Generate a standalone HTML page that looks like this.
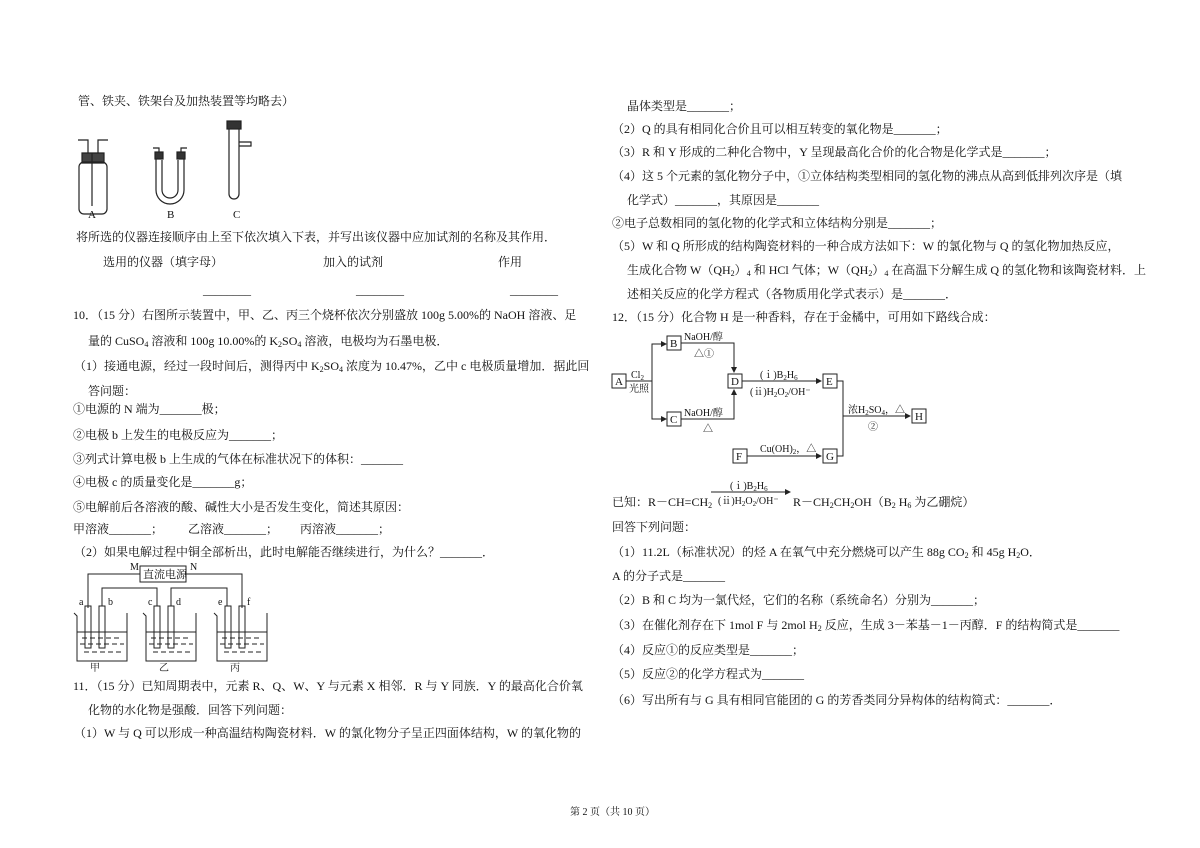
<!DOCTYPE html>
<html><head><meta charset="utf-8"><style>
body{margin:0;background:#fff;}
#p{position:relative;width:1200px;height:848px;overflow:hidden;font-family:"Liberation Serif","Noto Serif CJK SC",serif;font-size:12px;color:#111;}
.t{position:absolute;white-space:nowrap;line-height:16px;}
sub{font-size:8px;vertical-align:-2px;line-height:0}
svg{position:absolute;}
</style></head><body><div id="p">
<div class="t" style="left:78px;top:93px">管、铁夹、铁架台及加热装置等均略去）</div>
<svg style="left:60px;top:118px" width="220" height="102" viewBox="0 0 220 102" fill="none" stroke="#222" stroke-width="1.2">
<path d="M22 35 h22 v10 h-22z" fill="#444"/>
<rect x="19" y="44" width="28" height="52" rx="5"/>
<path d="M32 35 V88 M38 35 V22 h10 M28 35 v-13 h-10"/>
<path d="M96 38 v34 a14 14 0 0 0 28 0 v-34 M102 42 v30 a8 8 0 0 0 16 0 v-30"/>
<rect x="95" y="34" width="8" height="7" fill="#333"/><rect x="117" y="34" width="8" height="7" fill="#333"/>
<path d="M99 34 v-4 h-6 M121 34 v-4 h6"/>
<rect x="167" y="3" width="14" height="8" fill="#333"/>
<path d="M169 11 v65 a5 5 0 0 0 10 0 v-65 M179 24 h12 v4 h-12"/>
<text x="28" y="100" font-size="11" fill="#111" stroke="none">A</text>
<text x="107" y="100" font-size="11" fill="#111" stroke="none">B</text>
<text x="173" y="100" font-size="11" fill="#111" stroke="none">C</text>
</svg>
<div class="t" style="left:76px;top:229px">将所选的仪器连接顺序由上至下依次填入下表，并写出该仪器中应加试剂的名称及其作用．</div>
<div class="t" style="left:103px;top:254px">选用的仪器（填字母）</div>
<div class="t" style="left:323px;top:254px">加入的试剂</div>
<div class="t" style="left:498px;top:254px">作用</div>
<div class="t" style="left:203px;top:282px">________</div>
<div class="t" style="left:356px;top:282px">________</div>
<div class="t" style="left:510px;top:282px">________</div>
<div class="t" style="left:73px;top:307px">10．（15 分）右图所示装置中，甲、乙、丙三个烧杯依次分别盛放 100g 5.00%的 NaOH 溶液、足</div>
<div class="t" style="left:88px;top:333px">量的 CuSO<sub>4</sub> 溶液和 100g 10.00%的 K<sub>2</sub>SO<sub>4</sub> 溶液，电极均为石墨电极．</div>
<div class="t" style="left:74px;top:358px">（1）接通电源，经过一段时间后，测得丙中 K<sub>2</sub>SO<sub>4</sub> 浓度为 10.47%，乙中 c 电极质量增加．据此回</div>
<div class="t" style="left:88px;top:383px">答问题：</div>
<div class="t" style="left:73px;top:401px">①电源的 N 端为_______极；</div>
<div class="t" style="left:73px;top:427px">②电极 b 上发生的电极反应为_______；</div>
<div class="t" style="left:73px;top:451px">③列式计算电极 b 上生成的气体在标准状况下的体积：_______</div>
<div class="t" style="left:73px;top:474px">④电极 c 的质量变化是_______g；</div>
<div class="t" style="left:73px;top:499px">⑤电解前后各溶液的酸、碱性大小是否发生变化，简述其原因：</div>
<div class="t" style="left:73px;top:521px">甲溶液_______；</div>
<div class="t" style="left:188px;top:521px">乙溶液_______；</div>
<div class="t" style="left:300px;top:521px">丙溶液_______；</div>
<div class="t" style="left:74px;top:544px">（2）如果电解过程中铜全部析出，此时电解能否继续进行，为什么？_______．</div>
<svg style="left:60px;top:558px" width="220" height="115" viewBox="0 0 220 115" fill="none" stroke="#222" stroke-width="1">
<rect x="80" y="8" width="46" height="16"/>
<text x="83" y="20" font-size="11" fill="#111" stroke="none">直流电源</text>
<text x="70" y="12" font-size="10" fill="#111" stroke="none">M</text>
<text x="130" y="12" font-size="10" fill="#111" stroke="none">N</text>
<path d="M80 16 H28 V50 M126 16 H182 V50 M42 48 V30 H97 V48 M111 48 V30 H167 V48"/>
<g><rect x="25" y="48" width="6" height="42"/><rect x="39" y="48" width="6" height="42"/>
<path d="M14 55 l3 3 v45 h50 v-48"/><path d="M17 74 h50"/>
<path d="M22 80 h40 M20 86 h44 M24 94 h38" stroke-dasharray="5 3"/></g>
<g transform="translate(69,0)"><rect x="25" y="48" width="6" height="42"/><rect x="39" y="48" width="6" height="42"/>
<path d="M14 55 l3 3 v45 h50 v-48"/><path d="M17 74 h50"/>
<path d="M22 80 h40 M20 86 h44 M24 94 h38" stroke-dasharray="5 3"/></g>
<g transform="translate(140,0)"><rect x="25" y="48" width="6" height="42"/><rect x="39" y="48" width="6" height="42"/>
<path d="M14 55 l3 3 v45 h50 v-48"/><path d="M17 74 h50"/>
<path d="M22 80 h40 M20 86 h44 M24 94 h38" stroke-dasharray="5 3"/></g>
<g font-size="10" fill="#111" stroke="none"><text x="19" y="47">a</text><text x="48" y="47">b</text><text x="88" y="47">c</text><text x="116" y="47">d</text><text x="158" y="47">e</text><text x="187" y="47">f</text>
<text x="30" y="113">甲</text><text x="99" y="113">乙</text><text x="170" y="113">丙</text></g>
</svg>
<div class="t" style="left:73px;top:678px">11．（15 分）已知周期表中，元素 R、Q、W、Y 与元素 X 相邻．R 与 Y 同族．Y 的最高化合价氧</div>
<div class="t" style="left:88px;top:702px">化物的水化物是强酸．回答下列问题：</div>
<div class="t" style="left:74px;top:725px">（1）W 与 Q 可以形成一种高温结构陶瓷材料．W 的氯化物分子呈正四面体结构，W 的氧化物的</div>

<div class="t" style="left:627px;top:98px">晶体类型是_______；</div>
<div class="t" style="left:612px;top:121px">（2）Q 的具有相同化合价且可以相互转变的氧化物是_______；</div>
<div class="t" style="left:612px;top:144px">（3）R 和 Y 形成的二种化合物中，Y 呈现最高化合价的化合物是化学式是_______；</div>
<div class="t" style="left:612px;top:168px">（4）这 5 个元素的氢化物分子中，①立体结构类型相同的氢化物的沸点从高到低排列次序是（填</div>
<div class="t" style="left:627px;top:192px">化学式）_______，其原因是_______</div>
<div class="t" style="left:612px;top:215px">②电子总数相同的氢化物的化学式和立体结构分别是_______；</div>
<div class="t" style="left:612px;top:238px">（5）W 和 Q 所形成的结构陶瓷材料的一种合成方法如下：W 的氯化物与 Q 的氢化物加热反应，</div>
<div class="t" style="left:627px;top:262px">生成化合物 W（QH<sub>2</sub>）<sub>4</sub> 和 HCl 气体；W（QH<sub>2</sub>）<sub>4</sub> 在高温下分解生成 Q 的氢化物和该陶瓷材料．上</div>
<div class="t" style="left:627px;top:286px">述相关反应的化学方程式（各物质用化学式表示）是_______．</div>
<div class="t" style="left:612px;top:309px">12．（15 分）化合物 H 是一种香料，存在于金橘中，可用如下路线合成：</div>
<svg style="left:600px;top:325px" width="340" height="190" viewBox="0 0 340 190" fill="none" stroke="#222" stroke-width="1">
<defs><marker id="a" markerWidth="6" markerHeight="6" refX="5" refY="3" orient="auto"><path d="M0 0 L6 3 L0 6z" fill="#222" stroke="none"/></marker></defs>
<path d="M26 56 H52 V19 H66" marker-end="url(#a)"/><path d="M52 56 V94 H66" marker-end="url(#a)"/>
<path d="M81 18 H134 V47" marker-end="url(#a)"/><path d="M81 94 H134 V65" marker-end="url(#a)"/>
<path d="M142 56 H221" marker-end="url(#a)"/><path d="M147 131 H221" marker-end="url(#a)"/>
<path d="M237 56 H243 V131 H237 M243 91 H310" marker-end="url(#a)"/>
<g fill="#fff">
<rect x="12" y="49" width="14" height="14"/><rect x="67" y="11" width="14" height="14"/><rect x="67" y="87" width="14" height="14"/>
<rect x="128" y="49" width="14" height="14"/><rect x="223" y="49" width="14" height="14"/><rect x="312" y="84" width="14" height="14"/>
<rect x="133" y="124" width="14" height="14"/><rect x="223" y="124" width="14" height="14"/>
</g>
<g fill="#111" stroke="none" font-size="11">
<text x="15" y="60">A</text><text x="70" y="22">B</text><text x="70" y="98">C</text><text x="131" y="60">D</text><text x="226" y="60">E</text><text x="315" y="95">H</text><text x="136" y="135">F</text><text x="226" y="135">G</text>
<text x="31" y="53" font-size="10">Cl<tspan font-size="7" dy="2">2</tspan></text><text x="29" y="67" font-size="10">光照</text>
<text x="84" y="15" font-size="10">NaOH/醇</text><text x="94" y="32" font-size="10">△①</text>
<text x="84" y="91" font-size="10">NaOH/醇</text><text x="103" y="107" font-size="10">△</text>
<text x="160" y="53" font-size="10">(ⅰ)B<tspan font-size="7" dy="2">2</tspan><tspan dy="-2">H</tspan><tspan font-size="7" dy="2">6</tspan></text>
<text x="150" y="70" font-size="10">(ⅱ)H<tspan font-size="7" dy="2">2</tspan><tspan dy="-2">O</tspan><tspan font-size="7" dy="2">2</tspan><tspan dy="-2">/OH⁻</tspan></text>
<text x="248" y="88" font-size="10">浓H<tspan font-size="7" dy="2">2</tspan><tspan dy="-2">SO</tspan><tspan font-size="7" dy="2">4</tspan><tspan dy="-2">，△</tspan></text>
<text x="268" y="105" font-size="10">②</text>
<text x="160" y="127" font-size="10">Cu(OH)<tspan font-size="7" dy="2">2</tspan><tspan dy="-2">，△</tspan></text>
</g>
<path d="M111 167 H190" marker-end="url(#a)"/>
<g fill="#111" stroke="none" font-size="10">
<text x="130" y="164">(ⅰ)B<tspan font-size="7" dy="2">2</tspan><tspan dy="-2">H</tspan><tspan font-size="7" dy="2">6</tspan></text>
<text x="118" y="179">(ⅱ)H<tspan font-size="7" dy="2">2</tspan><tspan dy="-2">O</tspan><tspan font-size="7" dy="2">2</tspan><tspan dy="-2">/OH⁻</tspan></text>
</g>
</svg>
<div class="t" style="left:612px;top:494px">已知：R－CH=CH<sub>2</sub></div>
<div class="t" style="left:793px;top:494px">R－CH<sub>2</sub>CH<sub>2</sub>OH（B<sub>2</sub> H<sub>6</sub> 为乙硼烷）</div>
<div class="t" style="left:612px;top:519px">回答下列问题：</div>
<div class="t" style="left:612px;top:544px">（1）11.2L（标准状况）的烃 A 在氧气中充分燃烧可以产生 88g CO<sub>2</sub> 和 45g H<sub>2</sub>O．</div>
<div class="t" style="left:612px;top:568px">A 的分子式是_______</div>
<div class="t" style="left:612px;top:592px">（2）B 和 C 均为一氯代烃，它们的名称（系统命名）分别为_______；</div>
<div class="t" style="left:612px;top:617px">（3）在催化剂存在下 1mol F 与 2mol H<sub>2</sub> 反应，生成 3－苯基－1－丙醇．F 的结构简式是_______</div>
<div class="t" style="left:612px;top:642px">（4）反应①的反应类型是_______；</div>
<div class="t" style="left:612px;top:666px">（5）反应②的化学方程式为_______</div>
<div class="t" style="left:612px;top:692px">（6）写出所有与 G 具有相同官能团的 G 的芳香类同分异构体的结构简式：_______．</div>
<div class="t" style="left:570px;top:805px;font-size:10px">第 2 页（共 10 页）</div>
</div></body></html>
